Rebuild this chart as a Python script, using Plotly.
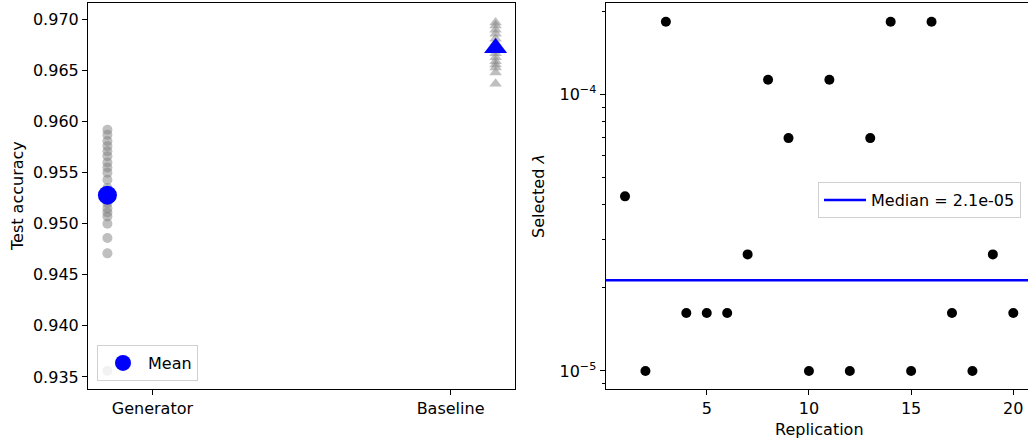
import numpy as np
import plotly.graph_objects as go

# ---------------- data ----------------
methods = ["Generator", "Baseline"]
method_pos = [0.0, 1.0]          # where each method's points sit
method_tick_pos = [0.116, 0.884]  # where each method's tick label sits

generator_acc = [0.9592, 0.9587, 0.9581, 0.9576, 0.9571, 0.9566, 0.9560, 0.9555,
                 0.9550, 0.9543, 0.9535, 0.9527, 0.9520, 0.9515, 0.9511, 0.9507,
                 0.9500, 0.9486, 0.9471, 0.9356]
baseline_acc = [0.9697, 0.9694, 0.9690, 0.9686, 0.9681, 0.9677, 0.9674, 0.9670,
                0.9667, 0.9663, 0.9659, 0.9656, 0.9653, 0.9648, 0.9637]
mean_acc = [0.9528, 0.9672]

replication = list(range(1, 21))
selected_lambda = [4.28e-5, 1.00e-5, 1.83e-4, 1.62e-5, 1.62e-5, 1.62e-5, 2.64e-5,
                   1.13e-4, 6.95e-5, 1.00e-5, 1.13e-4, 1.00e-5, 6.95e-5, 1.83e-4,
                   1.00e-5, 1.83e-4, 1.62e-5, 1.00e-5, 2.64e-5, 1.62e-5]

median_lambda = float(np.median(selected_lambda))

# ---------------- figure ----------------
W, H = 1028, 440
FONT = "DejaVu Sans"
FS = 16
GREY = "rgba(128,128,128,0.5)"

fig = go.Figure()

fig.add_trace(go.Scatter(
    x=[method_pos[0]] * len(generator_acc), y=generator_acc, mode="markers",
    marker=dict(symbol="circle", size=10, color=GREY, line=dict(width=0)),
    showlegend=False, xaxis="x", yaxis="y", hoverinfo="skip"))
fig.add_trace(go.Scatter(
    x=[method_pos[1]] * len(baseline_acc), y=baseline_acc, mode="markers",
    marker=dict(symbol="triangle-up", size=11, color=GREY, line=dict(width=0)),
    showlegend=False, xaxis="x", yaxis="y", hoverinfo="skip"))
fig.add_trace(go.Scatter(
    x=[method_pos[0]], y=[mean_acc[0]], mode="markers",
    marker=dict(symbol="circle", size=19, color="blue", line=dict(width=0)),
    name="Mean", showlegend=True, legend="legend", xaxis="x", yaxis="y"))
fig.add_trace(go.Scatter(
    x=[method_pos[1]], y=[mean_acc[1]], mode="markers",
    marker=dict(symbol="triangle-up", size=20, color="blue", line=dict(width=0)),
    showlegend=False, xaxis="x", yaxis="y"))

fig.add_trace(go.Scatter(
    x=replication, y=selected_lambda, mode="markers",
    marker=dict(symbol="circle", size=10, color="black", line=dict(width=0)),
    showlegend=False, xaxis="x2", yaxis="y2"))
fig.add_trace(go.Scatter(
    x=[replication[0] - 2, replication[-1] + 2], y=[median_lambda, median_lambda],
    mode="lines", line=dict(color="blue", width=2.5),
    name=f"Median = {median_lambda:.1e}", legend="legend2",
    xaxis="x2", yaxis="y2"))

axis_common = dict(showline=True, linecolor="black", linewidth=1.1,
                   ticks="outside", ticklen=5, tickwidth=1.1, tickcolor="black",
                   showgrid=False, zeroline=False, automargin=False,
                   tickfont=dict(family=FONT, size=FS, color="black"))

ax1_x0, ax1_x1 = 88 / W, 515 / W
ax2_x0 = 605.6 / W
y0, y1 = 1 - 389 / H, 1 - 3.3 / H

fig.update_layout(
    width=W, height=H,
    margin=dict(l=0, r=0, t=0, b=0),
    paper_bgcolor="white", plot_bgcolor="white",
    font=dict(family=FONT, size=FS, color="black"),
    xaxis=dict(domain=[ax1_x0, ax1_x1], range=[-0.05, 1.05],
               tickvals=method_tick_pos, ticktext=methods,
               mirror=True, anchor="y", **axis_common),
    yaxis=dict(domain=[y0, y1], range=[0.93382, 0.97158], tickformat=".3f",
               dtick=0.005, tick0=0.935, mirror=True, anchor="x", **axis_common),
    xaxis2=dict(domain=[ax2_x0, 1.0], range=[0.05, 20.72], tickvals=[5, 10, 15, 20],
                mirror=True, anchor="y2", **axis_common),
    yaxis2=dict(domain=[y0, y1], type="log", range=[-5.0651, -3.6706],
                tickvals=[1e-5, 1e-4], ticktext=["10<sup>−5</sup>", "10<sup>−4</sup>"],
                minor=dict(tickvals=[9e-6, 2e-5, 3e-5, 4e-5, 5e-5, 6e-5, 7e-5, 8e-5,
                                     9e-5, 2e-4],
                           ticks="outside", ticklen=3, tickwidth=0.8, tickcolor="black",
                           showgrid=False),
                anchor="x2", **axis_common),
    legend=dict(x=97 / W, y=1 - 381 / H, xanchor="left", yanchor="bottom",
                bgcolor="rgba(255,255,255,0.8)", bordercolor="#d0d0d0", borderwidth=1,
                font=dict(family=FONT, size=FS), itemsizing="trace", itemwidth=40),
    legend2=dict(x=818 / W, y=1 - 182 / H, xanchor="left", yanchor="top",
                 bgcolor="rgba(255,255,255,0.8)", bordercolor="#d0d0d0", borderwidth=1,
                 font=dict(family=FONT, size=FS), itemwidth=42),
    annotations=[
        dict(text="Test accuracy", x=17 / W, y=1 - 196 / H, xref="paper", yref="paper",
             textangle=-90, showarrow=False, xanchor="center", yanchor="middle",
             font=dict(family=FONT, size=FS)),
        dict(text="Selected <i>λ</i>", x=538 / W, y=1 - 196 / H, xref="paper",
             yref="paper", textangle=-90, showarrow=False, xanchor="center",
             yanchor="middle", font=dict(family=FONT, size=FS)),
        dict(text="Replication", x=819 / W, y=1 - 429 / H, xref="paper", yref="paper",
             showarrow=False, xanchor="center", yanchor="middle",
             font=dict(family=FONT, size=FS)),
    ],
)

fig.write_html("out.html", config={"displayModeBar": False},
               post_script="document.body.style.margin='0';")
